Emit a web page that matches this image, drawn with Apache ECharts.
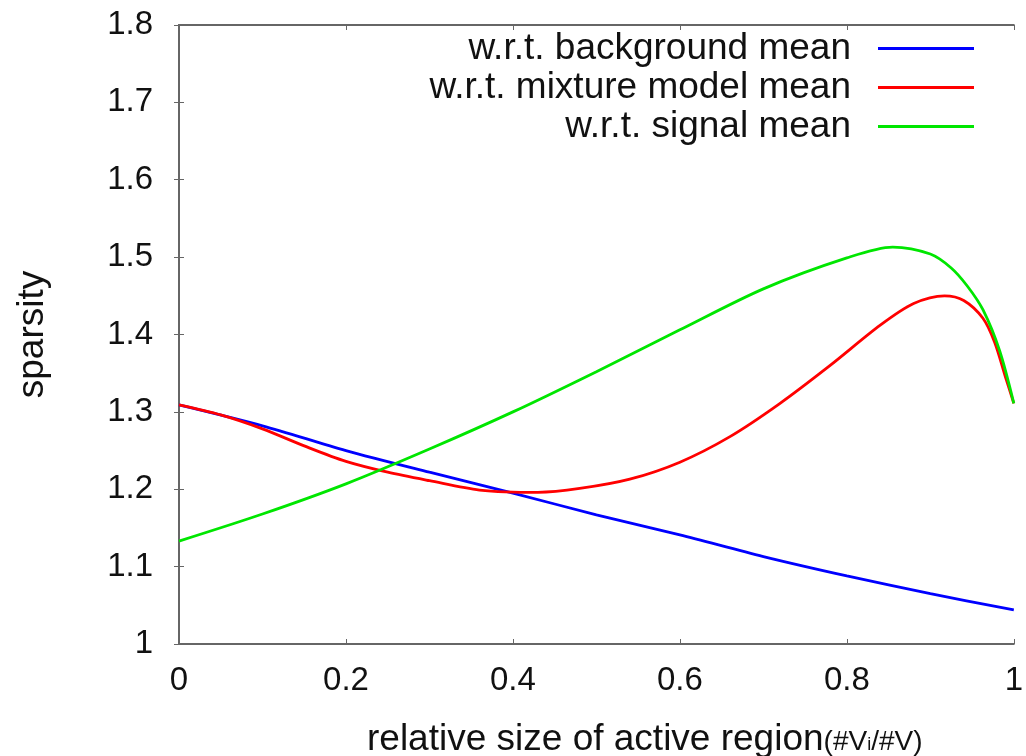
<!DOCTYPE html>
<html>
<head>
<meta charset="utf-8">
<script src="https://cdn.jsdelivr.net/npm/echarts@6/dist/echarts.min.js"></script>
<style>
  html, body { margin: 0; padding: 0; background: #fff; }
  #chart { width: 1026px; height: 756px; }
</style>
</head>
<body>
<div id="chart"></div>
<script>
  // values
  const bgX = [0, 0.1, 0.2, 0.3, 0.4, 0.5, 0.6, 0.7, 0.8, 0.9, 1.0];
  const bgY = [1.309, 1.282, 1.250, 1.222, 1.195, 1.167, 1.141, 1.113, 1.088, 1.065, 1.044];

  const mixX = [0, 0.05, 0.1, 0.15, 0.2, 0.25, 0.3, 0.36, 0.43, 0.48, 0.54, 0.6, 0.66, 0.72, 0.78, 0.84, 0.88, 0.917, 0.94, 0.963, 0.977, 0.99, 1.0];
  const mixY = [1.309, 1.296, 1.278, 1.256, 1.236, 1.222, 1.211, 1.199, 1.196, 1.201, 1.213, 1.235, 1.268, 1.311, 1.360, 1.412, 1.440, 1.450, 1.444, 1.421, 1.390, 1.345, 1.311];

  const sigX = [0, 0.1, 0.2, 0.3, 0.4, 0.5, 0.6, 0.7, 0.8, 0.855, 0.9, 0.925, 0.944, 0.963, 0.983, 1.0];
  const sigY = [1.133, 1.168, 1.207, 1.252, 1.300, 1.352, 1.406, 1.459, 1.499, 1.513, 1.504, 1.486, 1.463, 1.432, 1.379, 1.311];

  const names = ['w.r.t. background mean', 'w.r.t. mixture model mean', 'w.r.t. signal mean'];
  const colors = ['#0000ff', '#ff0000', '#00e600'];

  function pairs(xs, ys) {
    return xs.map((x, i) => [x, ys[i]]);
  }

  const font = 'Liberation Sans, Arial, sans-serif';
  const axisColor = '#666';

  const chart = echarts.init(document.getElementById('chart'));
  chart.setOption({
    animation: false,
    backgroundColor: '#fff',
    grid: { left: 179, top: 25, width: 835, height: 619 },
    legend: {
      right: 47,
      top: 25,
      orient: 'vertical',
      align: 'right',
      itemWidth: 96,
      itemHeight: 3,
      itemGap: 2,
      icon: 'rect',
      data: names,
      textStyle: { fontFamily: font, fontSize: 37, lineHeight: 37, color: '#111', padding: [0, 22, 0, 0] }
    },
    xAxis: [{
      type: 'value',
      min: 0, max: 1, interval: 0.2,
      axisLine: { show: true, lineStyle: { color: axisColor, width: 2 } },
      axisTick: { inside: true, length: 5, lineStyle: { color: axisColor } },
      splitLine: { show: false },
      axisLabel: { fontFamily: font, fontSize: 33, color: '#111', margin: 20 }
    }, {
      type: 'value', position: 'top',
      min: 0, max: 1, interval: 0.2,
      axisLine: { show: true, lineStyle: { color: axisColor, width: 2 } },
      axisTick: { inside: true, length: 5, lineStyle: { color: axisColor } },
      axisLabel: { show: false },
      splitLine: { show: false }
    }],
    yAxis: [{
      type: 'value',
      min: 1, max: 1.8, interval: 0.1,
      name: 'sparsity',
      nameLocation: 'middle',
      nameGap: 128,
      nameTextStyle: { fontFamily: font, fontSize: 37, color: '#111' },
      axisLine: { show: true, lineStyle: { color: axisColor, width: 2 } },
      axisTick: { inside: true, length: 5, lineStyle: { color: axisColor } },
      splitLine: { show: false },
      axisLabel: { fontFamily: font, fontSize: 33, color: '#111', margin: 26 }
    }, {
      type: 'value', position: 'right',
      min: 1, max: 1.8, interval: 0.1,
      axisLine: { show: true, lineStyle: { color: axisColor, width: 2 } },
      axisTick: { inside: true, length: 5, lineStyle: { color: axisColor } },
      axisLabel: { show: false },
      splitLine: { show: false }
    }],
    graphic: [{
      type: 'text',
      left: 367,
      top: 721,
      style: {
        text: '{a|relative size of active region}{b|(#V}{c|i}{b|/#V)}',
        rich: {
          a: { fontFamily: font, fontSize: 37, fill: '#111' },
          b: { fontFamily: font, fontSize: 28, fill: '#111', padding: [6, 0, 0, 0] },
          c: { fontFamily: font, fontSize: 18, fill: '#111', padding: [12, 0, 0, 0] }
        }
      }
    }],
    series: [
      { name: names[0], data: pairs(bgX, bgY) },
      { name: names[1], data: pairs(mixX, mixY) },
      { name: names[2], data: pairs(sigX, sigY) }
    ].map((s, i) => Object.assign(s, {
      type: 'line',
      smooth: 0.3,
      symbol: 'none',
      color: colors[i],
      lineStyle: { color: colors[i], width: 2.8 }
    }))
  });
</script>
</body>
</html>
